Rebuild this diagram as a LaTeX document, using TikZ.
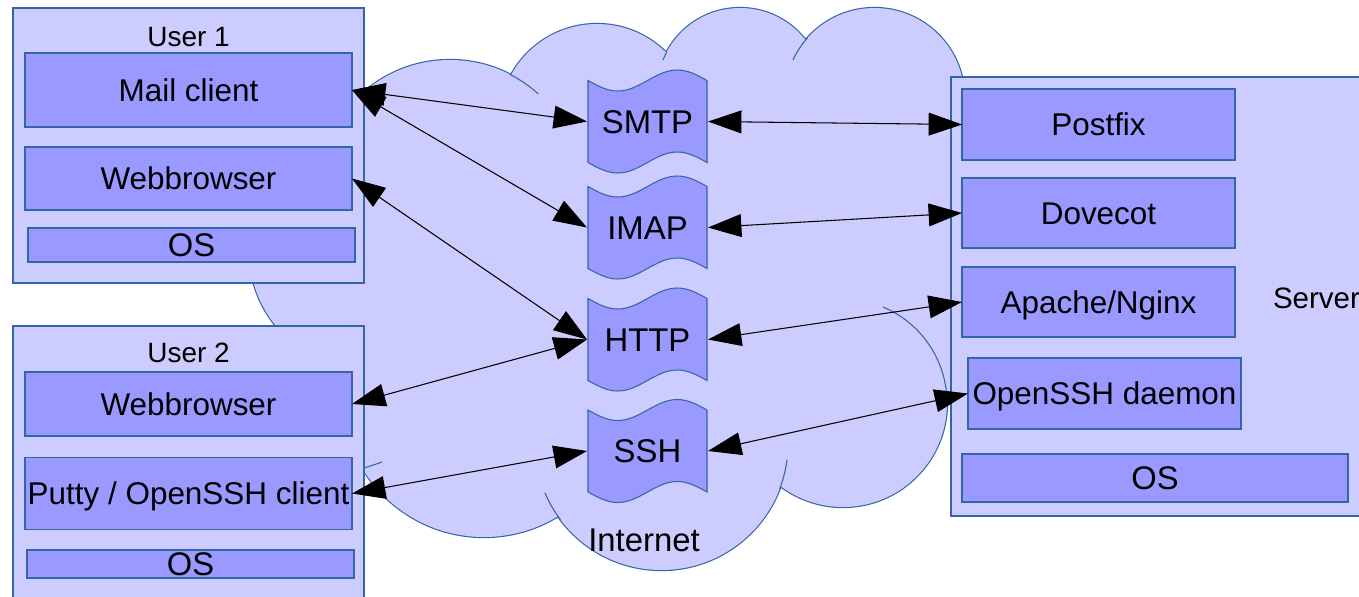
\documentclass[tikz,border=0pt]{standalone}
\usepackage{fontspec}
\setmainfont{Liberation Sans}
\usetikzlibrary{arrows.meta}
\definecolor{cloudfill}{HTML}{CCCCFF}
\definecolor{boxfill}{HTML}{9999FF}
\definecolor{bordc}{HTML}{3465A4}
\newcommand\pxu{0.02cm}
\begin{document}
\begin{tikzpicture}[x=0.02cm,y=-0.02cm,
  plain0/.style={inner sep=0pt, outer sep=0pt},
  outerbox/.style={plain0, draw=bordc, fill=cloudfill, line width=0.75pt},
  innerbox/.style={plain0, draw=bordc, fill=boxfill, line width=0.75pt,
    font=\fontsize{17.9pt}{21pt}\selectfont, text height=12.8pt, text depth=0pt},
  osbox/.style={innerbox, font=\fontsize{18.6pt}{21pt}\selectfont, text height=13.3pt},
  lbl/.style={plain0, font=\fontsize{15.9pt}{19pt}\selectfont, text height=11.4pt, text depth=0pt},
  srvlbl/.style={plain0, font=\fontsize{16.8pt}{19pt}\selectfont, text height=12pt, text depth=0pt},
  biglbl/.style={plain0, font=\fontsize{18.7pt}{21pt}\selectfont, text height=13.4pt, text depth=0pt},
  tape/.style={biglbl, minimum width=121*\pxu, minimum height=107*\pxu,
    path picture={\path[fill=boxfill, draw=bordc, line width=0.6pt]
      ([shift={(-59.5,-41)}]path picture bounding box.center)
      sin ++(29.75,10.5) cos ++(29.75,-10.5) sin ++(29.75,-10.5) cos ++(29.75,10.5)
      -- ++(0,82)
      sin ++(-29.75,-10.5) cos ++(-29.75,10.5) sin ++(-29.75,10.5) cos ++(-29.75,-10.5)
      -- cycle;}},
  conn/.style={<->, >={Triangle[length=19pt,width=13pt]}, line width=0.6pt, black},
  cloudline/.style={draw=bordc, line width=0.6pt}
]
\useasboundingbox (0,0) rectangle (1359,596);
\clip (0,0) rectangle (1359,596);

% ---- cloud ----
\foreach \cx/\cy/\r in {370/250/121, 450/192/132, 597/122/98, 740/91/83, 874.5/98/90, 843/403/104, 661.5/443.4/126.6, 484/395/142}
  \draw[bordc, line width=1.3pt] (\cx,\cy) circle[radius=\r];
\fill[cloudfill] (370,250) -- (450,192) -- (597,122) -- (740,91) -- (874.5,98) -- (960,98)
  -- (960,398) -- (946,398) -- (843,403) -- (661.5,443) -- (484,395) -- cycle;
\foreach \cx/\cy/\r in {370/250/121, 450/192/132, 597/122/98, 740/91/83, 874.5/98/90, 843/403/104, 661.5/443.4/126.6, 484/395/142}
  \fill[cloudfill] (\cx,\cy) circle[radius=\r];
% inner arcs of the cloud
\draw[cloudline] (843,403) ++(-67.4:104) arc[start angle=-67.4, end angle=0, radius=104];
\draw[cloudline] (661.5,443.4) ++(157:126.6) arc[start angle=157, end angle=143, radius=126.6];
\draw[cloudline] (661.5,443.4) ++(7.5:126.6) arc[start angle=7.5, end angle=21, radius=126.6];
\draw[cloudline] (450,192) ++(-63:132) arc[start angle=-63, end angle=-48, radius=132];
\draw[cloudline] (740,91) ++(-158:83) arc[start angle=-158, end angle=-152, radius=83];
\draw[cloudline] (874.5,98) ++(-155:90) arc[start angle=-155, end angle=-138, radius=90];
\draw[cloudline] (364,468) .. controls (372,465.5) .. (382,462);

% ---- user 1 ----
\node[outerbox, minimum width=351*\pxu, minimum height=275*\pxu] (u1) at (188.5,145.5) {};
\node[lbl] (u1l) at (188.5,36) {User 1};
\node[innerbox, minimum width=327*\pxu, minimum height=74*\pxu] (mail) at (188.5,90) {Mail client};
\node[innerbox, minimum width=327*\pxu, minimum height=63*\pxu] (web1) at (188.5,178.5) {Webbrowser};
\node[osbox, minimum width=327*\pxu, minimum height=34*\pxu] (os1) at (191.5,245) {OS};

% ---- user 2 ----
\node[outerbox, minimum width=351*\pxu, minimum height=290*\pxu] (u2) at (188.5,471) {};
\node[lbl] (u2l) at (188.5,352.5) {User 2};
\node[innerbox, minimum width=327*\pxu, minimum height=64*\pxu] (web2) at (188.5,404) {Webbrowser};
\node[innerbox, minimum width=327*\pxu, minimum height=72*\pxu] (putty) at (188.5,493.5) {Putty / OpenSSH client};
\node[osbox, minimum width=327*\pxu, minimum height=28*\pxu] (os2) at (190.5,564) {OS};

% ---- server ----
\node[outerbox, minimum width=420*\pxu, minimum height=439*\pxu] (srv) at (1161,296.5) {};
\node[srvlbl, anchor=west] (srvl) at (1273,297.5) {Server};
\node[innerbox, minimum width=273*\pxu, minimum height=71*\pxu] (postfix) at (1098.5,124.5) {Postfix};
\node[innerbox, minimum width=273*\pxu, minimum height=70*\pxu] (dovecot) at (1098.5,213) {Dovecot};
\node[innerbox, minimum width=273*\pxu, minimum height=70*\pxu] (apache) at (1098.5,302) {Apache/Nginx};
\node[innerbox, minimum width=273*\pxu, minimum height=71*\pxu] (sshd) at (1104.5,393.5) {OpenSSH daemon};
\node[osbox, minimum width=386*\pxu, minimum height=48*\pxu] (os3) at (1155,478) {OS};

% ---- protocols ----
\node[tape] (smtp) at (647.5,121.5) {SMTP};
\node[tape] (imap) at (647.5,227.5) {IMAP};
\node[tape] (http) at (647.5,339.5) {HTTP};
\node[tape] (ssh) at (647.5,451) {SSH};
\node[biglbl] (inet) at (644,540) {Internet};

% ---- connections ----
\draw[conn] (mail.east) -- (smtp.west);
\draw[conn] (mail.east) -- (imap.west);
\draw[conn] (web1.east) -- (http.west);
\draw[conn] (web2.east) -- (http.west);
\draw[conn] (putty.east) -- (ssh.west);
\draw[conn] (smtp.east) -- (postfix.west);
\draw[conn] (imap.east) -- (dovecot.west);
\draw[conn] (http.east) -- (apache.west);
\draw[conn] (ssh.east) -- (sshd.west);
\end{tikzpicture}
\end{document}
